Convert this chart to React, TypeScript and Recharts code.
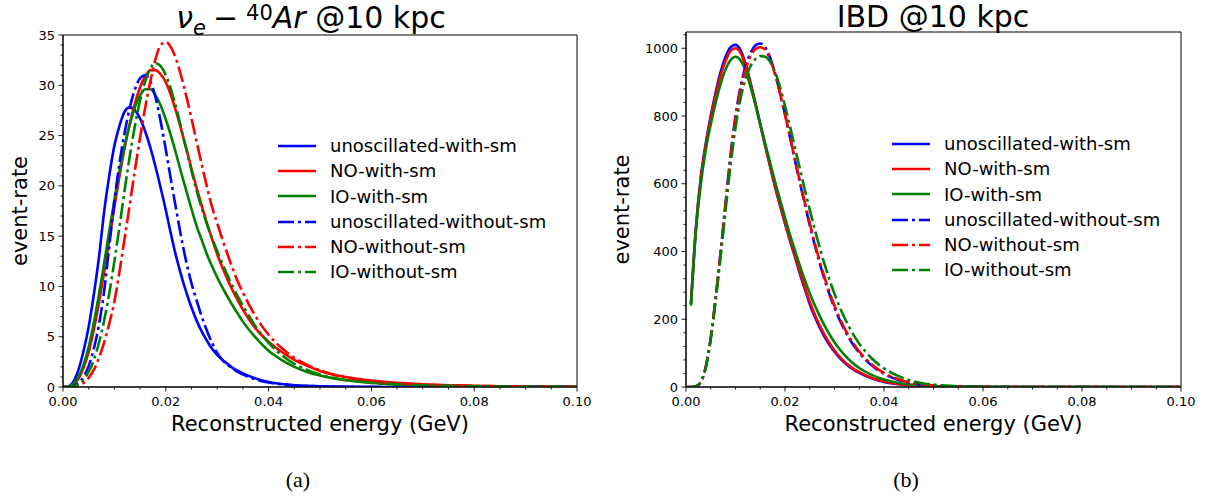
import React from 'react';
import { LineChart, Line, XAxis, YAxis, ReferenceArea } from 'recharts';

// shared energy grid (GeV)
const energies = [
  0, 0.001, 0.002, 0.003, 0.004, 0.005, 0.006, 0.007, 0.008, 0.009,
  0.01, 0.011, 0.012, 0.013, 0.014, 0.015, 0.016, 0.017, 0.018, 0.019,
  0.02, 0.021, 0.022, 0.023, 0.024, 0.025, 0.026, 0.027, 0.028, 0.029,
  0.03, 0.031, 0.032, 0.033, 0.034, 0.035,
  0.0375, 0.04, 0.0425, 0.045, 0.0475, 0.05, 0.0525, 0.055, 0.0575, 0.06,
  0.065, 0.07, 0.075, 0.08, 0.085, 0.09, 0.095, 0.1,
];

// nu_e - 40Ar
const arUnoscWith = [
  0, 0.05, 0.5, 1.7, 3.6, 6.0, 9.2, 12.9, 17.4, 21.0,
  24.0, 26.0, 27.4, 27.8, 27.5, 26.7, 25.4, 23.8, 21.9, 19.8,
  17.6, 15.2, 13.0, 11.1, 9.4, 7.9, 6.6, 5.5, 4.6, 3.8,
  3.2, 2.7, 2.3, 1.9, 1.6, 1.35,
  0.85, 0.5, 0.3, 0.18, 0.11, 0.07, 0.04, 0.03, 0.02, 0.01,
  0, 0, 0, 0, 0, 0, 0, 0,
];
const arNOWith = [
  0, 0.03, 0.2, 0.8, 1.9, 3.5, 5.7, 8.4, 11.4, 14.6,
  17.9, 21.0, 23.8, 26.2, 28.2, 29.8, 30.9, 31.5, 31.5, 31.1,
  30.3, 29.0, 27.4, 25.6, 23.7, 21.7, 19.8, 18.0, 16.3, 14.7,
  13.2, 11.9, 10.7, 9.6, 8.6, 7.7,
  5.8, 4.5, 3.5, 2.7, 2.1, 1.6, 1.25, 1.0, 0.8, 0.65,
  0.42, 0.28, 0.18, 0.12, 0.08, 0.05, 0.03, 0.02,
];
const arIOWith = [
  0, 0.04, 0.3, 1.0, 2.2, 4.0, 6.4, 9.2, 12.3, 15.5,
  18.6, 21.5, 24.0, 26.1, 27.8, 29.0, 29.6, 29.6, 29.0, 28.0,
  26.6, 25.0, 23.2, 21.3, 19.5, 17.7, 16.0, 14.6, 13.2, 12.0,
  10.9, 9.9, 9.0, 8.1, 7.3, 6.5,
  4.9, 3.6, 2.7, 2.0, 1.5, 1.15, 0.88, 0.68, 0.52, 0.4,
  0.25, 0.16, 0.1, 0.07, 0.05, 0.03, 0.02, 0.01,
];
const arUnoscWithout = [
  0, 0, 0.1, 0.4, 1.0, 2.1, 3.8, 6.2, 9.5, 14.0,
  18.5, 22.3, 25.3, 27.8, 29.6, 30.7, 31.0, 30.4, 28.8, 26.4,
  23.6, 20.6, 17.7, 14.9, 12.4, 10.3, 8.6, 7.0, 5.6, 4.4,
  3.4, 2.7, 2.2, 1.85, 1.5, 1.25,
  0.75, 0.45, 0.27, 0.16, 0.1, 0.06, 0.04, 0.02, 0.01, 0,
  0, 0, 0, 0, 0, 0, 0, 0,
];
const arNOWithout = [
  0, 0, 0.03, 0.15, 0.4, 0.9, 1.7, 2.9, 4.4, 6.3,
  8.5, 11.5, 14.8, 18.2, 21.6, 24.8, 27.8, 30.4, 32.6, 34.0,
  34.3, 33.8, 32.6, 30.9, 28.9, 26.7, 24.4, 22.1, 19.9, 17.9,
  16.3, 14.7, 13.2, 11.8, 10.5, 9.4,
  7.0, 5.2, 3.9, 2.9, 2.2, 1.65, 1.25, 0.95, 0.74, 0.58,
  0.36, 0.24, 0.16, 0.11, 0.07, 0.05, 0.03, 0.02,
];
const arIOWithout = [
  0, 0, 0.05, 0.25, 0.7, 1.5, 2.7, 4.4, 6.6, 9.3,
  12.5, 16.0, 19.6, 23.0, 26.0, 28.5, 30.4, 31.7, 32.2, 31.9,
  31.0, 29.6, 27.8, 25.7, 23.6, 21.5, 19.5, 17.8, 16.2, 14.8,
  13.5, 12.3, 11.1, 10.0, 9.0, 8.1,
  6.0, 4.4, 3.2, 2.3, 1.7, 1.25, 0.92, 0.7, 0.54, 0.42,
  0.26, 0.17, 0.11, 0.07, 0.05, 0.03, 0.02, 0.01,
];

// IBD
const ibdUnoscWith = [
  null, 245, 470, 620, 720, 800, 870, 930, 975, 1003,
  1010, 995, 955, 900, 840, 775, 712, 650, 590, 535,
  482, 432, 385, 335, 290, 245, 208, 176, 148, 124,
  104, 87, 72, 60, 50, 42,
  26, 15, 9, 5, 3, 1.7, 1, 0.5, 0.3, 0.2,
  0.1, 0, 0, 0, 0, 0, 0, 0,
];
const ibdNOWith = [
  null, 245, 468, 615, 715, 795, 862, 920, 963, 992,
  1000, 987, 950, 897, 838, 775, 713, 652, 593, 538,
  486, 436, 389, 340, 295, 252, 215, 182, 154, 129,
  108, 90, 75, 63, 52, 44,
  27, 16, 9.5, 5.5, 3.2, 1.8, 1, 0.6, 0.3, 0.2,
  0.1, 0, 0, 0, 0, 0, 0, 0,
];
const ibdIOWith = [
  null, 240, 460, 600, 700, 775, 840, 895, 938, 965,
  975, 965, 935, 888, 834, 777, 719, 662, 606, 553,
  500, 450, 403, 358, 316, 277, 242, 210, 181, 155,
  132, 112, 95, 80, 67, 56,
  36, 22, 13, 8, 4.5, 2.5, 1.4, 0.8, 0.5, 0.3,
  0.1, 0, 0, 0, 0, 0, 0, 0,
];
const ibdUnoscWithout = [
  0, 0, 2, 15, 60, 145, 265, 400, 545, 685,
  800, 885, 945, 985, 1008, 1014, 1003, 972, 925, 868,
  805, 738, 670, 604, 540, 478, 420, 366, 317, 273,
  234, 199, 169, 143, 120, 101,
  64, 39, 23, 13, 7.5, 4, 2.2, 1.2, 0.6, 0.3,
  0.1, 0, 0, 0, 0, 0, 0, 0,
];
const ibdNOWithout = [
  0, 0, 2, 15, 60, 145, 265, 398, 540, 678,
  792, 876, 935, 975, 997, 1003, 996, 966, 922, 866,
  805, 740, 673, 608, 545, 484, 426, 372, 323, 279,
  240, 205, 174, 148, 125, 105,
  67, 41, 25, 14, 8, 4.5, 2.5, 1.3, 0.7, 0.35,
  0.1, 0, 0, 0, 0, 0, 0, 0,
];
const ibdIOWithout = [
  0, 0, 2, 14, 57, 140, 255, 385, 522, 655,
  765, 850, 908, 946, 968, 977, 975, 960, 930, 885,
  830, 770, 707, 645, 583, 523, 466, 412, 362, 316,
  275, 238, 205, 176, 150, 128,
  85, 55, 35, 21, 12, 7, 4, 2.2, 1.2, 0.6,
  0.2, 0.05, 0, 0, 0, 0, 0, 0,
];

// ticks
const xMajor = [0, 0.02, 0.04, 0.06, 0.08, 0.1];
const xMinor = [
  0, 0.005, 0.01, 0.015, 0.02, 0.025, 0.03, 0.035, 0.04, 0.045, 0.05,
  0.055, 0.06, 0.065, 0.07, 0.075, 0.08, 0.085, 0.09, 0.095, 0.1,
];
const arYMajor = [0, 5, 10, 15, 20, 25, 30, 35];
const arYMinor = [
  0, 1, 2, 3, 4, 5, 6, 7, 8, 9, 10, 11, 12, 13, 14, 15, 16, 17,
  18, 19, 20, 21, 22, 23, 24, 25, 26, 27, 28, 29, 30, 31, 32, 33, 34, 35,
];
const ibdYMajor = [0, 200, 400, 600, 800, 1000];
const ibdYMinor = [
  0, 40, 80, 120, 160, 200, 240, 280, 320, 360, 400, 440, 480, 520,
  560, 600, 640, 680, 720, 760, 800, 840, 880, 920, 960, 1000, 1040,
];

const seriesNames = [
  'unoscillated-with-sm',
  'NO-with-sm',
  'IO-with-sm',
  'unoscillated-without-sm',
  'NO-without-sm',
  'IO-without-sm',
];
const seriesColors = ['#0000ff', '#ff0000', '#008000', '#0000ff', '#ff0000', '#008000'];
const DASHDOT = '16 4 3 4';
const seriesDash = [undefined, undefined, undefined, DASHDOT, DASHDOT, DASHDOT];

const FONT = '"DejaVu Sans", sans-serif';

function buildRows(series: (number | null)[][]) {
  return energies.map((e, i) => {
    const row: any = { e };
    series.forEach((s, k) => {
      row['s' + k] = s[i];
    });
    return row;
  });
}

const arRows = buildRows([arUnoscWith, arNOWith, arIOWith, arUnoscWithout, arNOWithout, arIOWithout]);
const ibdRows = buildRows([ibdUnoscWith, ibdNOWith, ibdIOWith, ibdUnoscWithout, ibdNOWithout, ibdIOWithout]);

const isIn = (list: number[], v: number) => list.some((m) => Math.abs(m - v) < 1e-9);

const XTick = (props: any) => {
  const { x, y, payload } = props;
  const major = isIn(xMajor, payload.value);
  return (
    <g>
      <line x1={x} x2={x} y1={y} y2={y + (major ? 4.5 : 2.5)} stroke="#000" strokeWidth={0.9} />
      {major && (
        <text x={x} y={y + 9} textAnchor="middle" dominantBaseline="hanging" fontFamily={FONT} fontSize={13} fill="#000">
          {payload.value.toFixed(2)}
        </text>
      )}
    </g>
  );
};

const makeYTick = (majors: number[]) => (props: any) => {
  const { x, y, payload } = props;
  const major = isIn(majors, payload.value);
  return (
    <g>
      <line x1={x} x2={x - (major ? 4.5 : 2.5)} y1={y} y2={y} stroke="#000" strokeWidth={0.9} />
      {major && (
        <text x={x - 8} y={y} textAnchor="end" dominantBaseline="central" fontFamily={FONT} fontSize={13} fill="#000">
          {payload.value}
        </text>
      )}
    </g>
  );
};

const ArYTick = makeYTick(arYMajor);
const IbdYTick = makeYTick(ibdYMajor);

const LegendBox = ({ left, top }: { left: number; top: number }) => (
  <div style={{ position: 'absolute', left, top, fontFamily: FONT, fontSize: 18, color: '#000' }}>
    {seriesNames.map((name, k) => (
      <div key={name} style={{ display: 'flex', alignItems: 'center', height: 25.3, lineHeight: '25.3px' }}>
        <svg width={38} height={6} style={{ display: 'block' }}>
          <line x1={0} x2={38} y1={3} y2={3} stroke={seriesColors[k]} strokeWidth={2.6} strokeDasharray={seriesDash[k]} />
        </svg>
        <span style={{ marginLeft: 14, whiteSpace: 'nowrap' }}>{name}</span>
      </div>
    ))}
  </div>
);

interface PanelProps {
  rows: any[];
  yMax: number;
  yTicks: number[];
  yTick: any;
  yAxisWidth: number;
  width: number;
  margin: { top: number; right: number; left: number; bottom: number };
  ylabelOffset: number;
}

const Panel = ({ rows, yMax, yTicks, yTick, yAxisWidth, width, margin, ylabelOffset }: PanelProps) => (
  <LineChart width={width} height={440} data={rows} margin={margin}>
    <XAxis
      dataKey="e"
      type="number"
      domain={[0, 0.1]}
      ticks={xMinor}
      interval={0}
      tick={<XTick />}
      tickLine={false}
      tickSize={0}
      tickMargin={0}
      height={45}
      axisLine={{ stroke: '#000' }}
      allowDataOverflow
      label={{
        value: 'Reconstructed energy (GeV)',
        position: 'insideBottom',
        offset: 1,
        fontSize: 21,
        fontFamily: FONT,
        fill: '#000',
      }}
    />
    <YAxis
      type="number"
      domain={[0, yMax]}
      ticks={yTicks}
      interval={0}
      tick={yTick}
      tickLine={false}
      tickSize={0}
      tickMargin={0}
      width={yAxisWidth}
      axisLine={{ stroke: '#000' }}
      allowDataOverflow
      label={{
        value: 'event-rate',
        angle: -90,
        position: 'insideLeft',
        offset: ylabelOffset,
        fontSize: 21,
        fontFamily: FONT,
        fill: '#000',
        style: { textAnchor: 'middle' },
      }}
    />
    {seriesNames.map((name, k) => (
      <Line
        key={name}
        dataKey={'s' + k}
        name={name}
        type="monotone"
        stroke={seriesColors[k]}
        strokeWidth={2.6}
        strokeDasharray={seriesDash[k]}
        dot={false}
        activeDot={false}
        isAnimationActive={false}
      />
    ))}
    <ReferenceArea x1={0} x2={0.1} y1={0} y2={yMax} fill="none" stroke="#000" strokeWidth={1} ifOverflow="visible" />
  </LineChart>
);

export default function App() {
  return (
    <div style={{ position: 'absolute', left: 0, top: 0, width: 1213, height: 502, background: '#fff', overflow: 'hidden' }}>
      <div style={{ position: 'absolute', left: 0, top: 0 }}>
        <Panel
          rows={arRows}
          yMax={35}
          yTicks={arYMinor}
          yTick={<ArYTick />}
          yAxisWidth={63}
          width={600}
          margin={{ top: 35, right: 23, left: 0, bottom: 8 }}
          ylabelOffset={20}
        />
      </div>
      <div style={{ position: 'absolute', left: 600, top: 0 }}>
        <Panel
          rows={ibdRows}
          yMax={1048}
          yTicks={ibdYMinor}
          yTick={<IbdYTick />}
          yAxisWidth={86}
          width={613}
          margin={{ top: 32, right: 32, left: 0, bottom: 8 }}
          ylabelOffset={22}
        />
      </div>

      <div style={{ position: 'absolute', left: 0, top: 3, width: 622, textAlign: 'center', fontFamily: FONT, fontSize: 30, lineHeight: '30px', color: '#000', whiteSpace: 'nowrap' }}>
        <i>ν</i>
        <span style={{ fontSize: 21, position: 'relative', top: 7, fontStyle: 'italic' }}>e</span>
        <span style={{ margin: '0 8px 0 7px' }}>−</span>
        <span style={{ fontSize: 21, position: 'relative', top: -8 }}>40</span>
        <i>Ar</i>
        {' @10 kpc'}
      </div>
      <div style={{ position: 'absolute', left: 733, top: 2, width: 400, textAlign: 'center', fontFamily: FONT, fontSize: 30, lineHeight: '30px', color: '#000' }}>
        IBD @10 kpc
      </div>

      <LegendBox left={278} top={133} />
      <LegendBox left={892} top={131} />

      <div style={{ position: 'absolute', left: 248, top: 467, width: 100, textAlign: 'center', fontFamily: '"Liberation Serif", serif', fontSize: 22, color: '#000' }}>
        (a)
      </div>
      <div style={{ position: 'absolute', left: 856, top: 467, width: 100, textAlign: 'center', fontFamily: '"Liberation Serif", serif', fontSize: 22, color: '#000' }}>
        (b)
      </div>
    </div>
  );
}
